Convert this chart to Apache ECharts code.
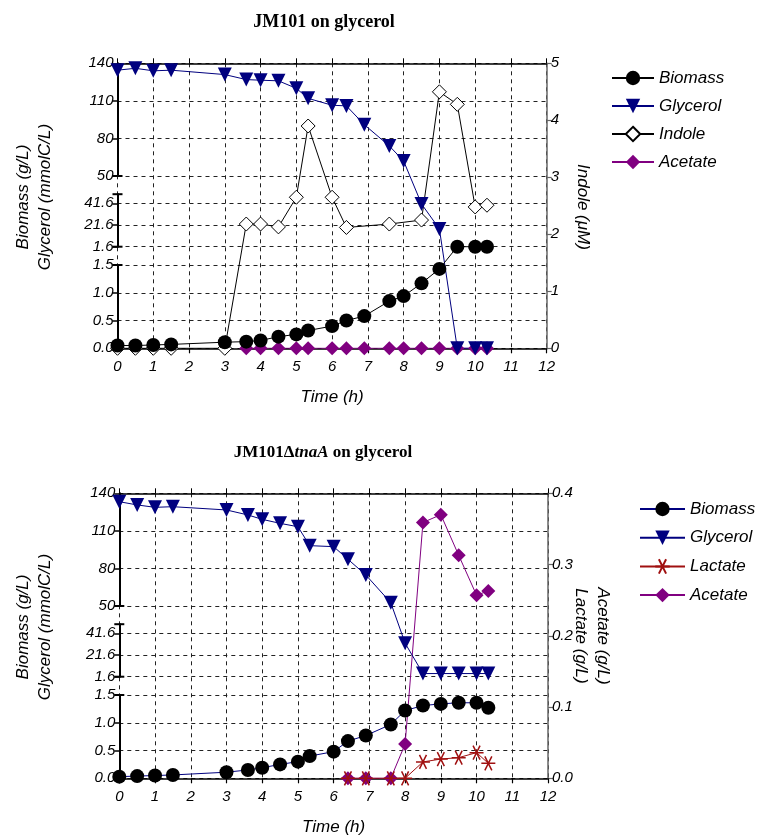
<!DOCTYPE html>
<html><head><meta charset="utf-8">
<script src="https://cdn.jsdelivr.net/npm/echarts@6/dist/echarts.min.js"></script>
<style>html,body{margin:0;padding:0;background:#fff}#c{width:767px;height:838px}</style>
</head><body><div id="c"></div>
<script>
// ================= DATA =================
// Panel 1: JM101 on glycerol
const timeBioGly1 = [0,0.5,1,1.5,3,3.6,4,4.5,5,5.33,6,6.4,6.9,7.6,8,8.5,9,9.5,10,10.33];
const biomass1    = [0.05,0.05,0.06,0.07,0.11,0.12,0.14,0.21,0.25,0.32,0.40,0.50,0.58,0.85,0.94,1.17,1.43,1.6,1.6,1.6];
const glycerol1   = [134.5,136,134,134.5,131,127,126.5,126,120,112,106.5,106,91,74,62,41,18,0,0,0];
const timeIndole1 = [0,0.5,1,1.5,3,3.6,4,4.5,5,5.33,6,6.4,7.6,8.5,9,9.5,10,10.33];
const indole1     = [0,0,0,0,0,2.18,2.18,2.13,2.65,3.9,2.65,2.12,2.18,2.25,4.5,4.28,2.48,2.51];
const timeAcetate1= [3.6,4,4.5,5,5.33,6,6.4,6.9,7.6,8,8.5,9,9.5,10,10.33];
const acetate1    = [0,0,0,0,0,0,0,0,0,0,0,0,0,0,0];

// Panel 2: JM101ΔtnaA on glycerol
const timeBioGly2 = [0,0.5,1,1.5,3,3.6,4,4.5,5,5.33,6,6.4,6.9,7.6,8,8.5,9,9.5,10,10.33];
const biomass2    = [0.03,0.04,0.05,0.06,0.11,0.15,0.19,0.25,0.30,0.40,0.48,0.67,0.77,0.97,1.22,1.31,1.34,1.36,1.36,1.27];
const glycerol2   = [133.3,130.7,128.8,129.3,126.7,122.7,119.2,116,113.3,98.2,97.4,87.3,74.8,52.6,32.5,4.5,4.5,4.5,4.5,4.5];
const timeAcLac2  = [6.4,6.9,7.6,8,8.5,9,9.5,10,10.33];
const lactate2    = [0,0,0,0,0.023,0.027,0.029,0.036,0.021];
const acetate2    = [0,0,0,0.048,0.359,0.370,0.313,0.257,0.263];

// Tick labels
const xTicks        = [0,1,2,3,4,5,6,7,8,9,10,11,12];
const leftTicksLow  = [0, 0.5, 1.0, 1.5];
const leftTicksMid  = [1.6, 21.6, 41.6];
const leftTicksHigh = [50, 80, 110, 140];
const indoleTicks   = [0,1,2,3,4,5];
const acLacTicks    = [0,0.1,0.2,0.3,0.4];

// ================= LAYOUT / BROKEN AXIS =================
const PLOT_H = 285;
const SEG_A = {min:0,   max:1.5, h:83.3};
const GAP1  = 18.3;
const SEG_B = {min:1.6, max:50,  h:52.5};
const GAP2  = 18.2;
const SEG_C = {min:50,  max:140, h:112.7};
// broken-axis scale: real value -> position on the hidden full-height axis
function brk(v){
  if (v <= SEG_A.max) return (v - SEG_A.min) / (SEG_A.max - SEG_A.min) * SEG_A.h;
  if (v < SEG_B.min)  return SEG_A.h + (v - SEG_A.max) / (SEG_B.min - SEG_A.max) * GAP1;
  if (v < SEG_B.max)  return SEG_A.h + GAP1 + (v - SEG_B.min) / (SEG_B.max - SEG_B.min) * SEG_B.h;
  return SEG_A.h + GAP1 + SEG_B.h + GAP2 + (v - SEG_C.min) / (SEG_C.max - SEG_C.min) * SEG_C.h;
}

const FONT = 'Liberation Sans, Arial, Helvetica, sans-serif';
const SERIF = 'Liberation Serif, Times New Roman, serif';
const NAVY = '#00007f', PURPLE = '#800080', RED = '#a01010';
const ZW = '\u200b';

const grids=[], xAxes=[], yAxes=[], series=[];

function lbl(extra){ return Object.assign({fontFamily:FONT, fontStyle:'italic', fontSize:15, color:'#000'}, extra||{}); }
const dashed = {show:true, lineStyle:{color:'#222', width:1, type:[4,4]}};

function addPanel(P){
  const g0 = grids.length;
  const bottom = P.top + PLOT_H;
  grids.push({left:P.left, top:P.top, width:P.width, height:PLOT_H, outerBoundsMode:'none'});
  grids.push({left:P.left, top:bottom - SEG_A.h, width:P.width, height:SEG_A.h, outerBoundsMode:'none'});
  grids.push({left:P.left, top:bottom - SEG_A.h - GAP1 - SEG_B.h, width:P.width, height:SEG_B.h, outerBoundsMode:'none'});
  grids.push({left:P.left, top:P.top, width:P.width, height:SEG_C.h, outerBoundsMode:'none'});

  const x0 = xAxes.length;
  xAxes.push({gridIndex:g0, type:'value', min:xTicks[0], max:xTicks[xTicks.length-1], interval:1,
    name:'Time (h)', nameLocation:'middle', nameGap:40,
    nameTextStyle:{fontFamily:FONT, fontStyle:'italic', fontSize:17, color:'#000'},
    axisLine:{onZero:false, lineStyle:{color:'#000', width:1.5}},
    axisTick:{show:true, length:5, lineStyle:{color:'#000', width:1.2}},
    axisLabel:lbl({margin:11}),
    splitLine:dashed});
  xAxes.push({gridIndex:g0+1, type:'value', min:0, max:12, show:false});
  xAxes.push({gridIndex:g0+2, type:'value', min:0, max:12, show:false});
  xAxes.push({gridIndex:g0+3, type:'value', min:0, max:12, interval:1, position:'top',
    axisLine:{onZero:false, lineStyle:{color:'#000', width:1.5}},
    axisTick:{show:true, length:5, lineStyle:{color:'#000', width:1}},
    axisLabel:{show:false}, splitLine:{show:false}});

  const y0 = yAxes.length;
  // hidden full-height broken scale
  yAxes.push({gridIndex:g0, type:'value', min:0, max:PLOT_H, show:false});
  // right axis
  yAxes.push({gridIndex:g0, type:'value', position:'right', min:P.rTicks[0], max:P.rTicks[P.rTicks.length-1],
    interval:P.rTicks[1]-P.rTicks[0],
    axisLine:{show:true, onZero:false, lineStyle:{color:'#666', width:1.5}},
    axisTick:{show:true, length:5, lineStyle:{color:'#666', width:1.2}},
    axisLabel:lbl({margin:4, formatter:P.rFmt}),
    splitLine:{show:false}});
  const segAxis = (gi, seg, ticks, fmt, sym) => ({gridIndex:gi, type:'value', min:seg.min, max:seg.max,
    axisLine:{show:true, onZero:false, lineStyle:{color:'#000', width:2}, symbol:sym, symbolSize:[10,2]},
    axisTick:{show:true, length:5, customValues:ticks, lineStyle:{color:'#000', width:1.5}},
    axisLabel:lbl({margin:4, customValues:ticks, formatter:fmt}),
    splitLine:dashed});
  yAxes.push(segAxis(g0+1, SEG_A, leftTicksLow, v=>v.toFixed(1), ['none','rect']));
  yAxes.push(segAxis(g0+2, SEG_B, leftTicksMid, v=>v.toFixed(1), ['rect','rect']));
  yAxes.push(segAxis(g0+3, SEG_C, leftTicksHigh, v=>String(Math.round(v)), ['rect','none']));

  P.series.forEach(s => {
    const useRight = s.right;
    series.push({
      type:'line', name:s.name, xAxisIndex:x0, yAxisIndex: useRight ? y0+1 : y0,
      data: s.t.map((t,i)=>[t, useRight ? s.v[i] : brk(s.v[i])]),
      symbol:s.symbol, symbolSize:s.size, symbolRotate:s.rotate||0,
      showAllSymbol:true, animation:false, z:s.z||2,
      lineStyle:{color:s.line, width:1},
      itemStyle:Object.assign({color:s.fill}, s.item||{}),
      emphasis:{disabled:true}
    });
  });
}

const asterisk = 'path://M-10,0L10,0M-5,-8.66L5,8.66M-5,8.66L5,-8.66';

addPanel({top:63.3, left:117.5, width:429.2, rTicks:indoleTicks, rFmt:v=>String(Math.round(v)),
  series:[
    {name:'Indole', t:timeIndole1, v:indole1, right:true, symbol:'diamond', size:14, line:'#000', fill:'#fff', item:{borderColor:'#000', borderWidth:1}},
    {name:'Acetate', t:timeAcetate1, v:acetate1, symbol:'diamond', size:14, line:PURPLE, fill:PURPLE},
    {name:'Glycerol', t:timeBioGly1, v:glycerol1, symbol:'triangle', rotate:180, size:14, line:NAVY, fill:NAVY},
    {name:'Biomass', t:timeBioGly1, v:biomass1, symbol:'circle', size:14, line:'#000', fill:'#000'}
  ]});

addPanel({top:493.3, left:119.3, width:428.7, rTicks:acLacTicks, rFmt:v=>v.toFixed(1),
  series:[
    {name:'Acetate'+ZW, t:timeAcLac2, v:acetate2, right:true, symbol:'diamond', size:14, line:PURPLE, fill:PURPLE},
    {name:'Lactate', t:timeAcLac2, v:lactate2, right:true, symbol:asterisk, size:14, line:RED, fill:'rgba(0,0,0,0)', item:{borderColor:RED, borderWidth:1.5}},
    {name:'Glycerol'+ZW, t:timeBioGly2, v:glycerol2, symbol:'triangle', rotate:180, size:14, line:NAVY, fill:NAVY},
    {name:'Biomass'+ZW, t:timeBioGly2, v:biomass2, symbol:'circle', size:14, line:NAVY, fill:'#000'}
  ]});

const legendText = {fontFamily:FONT, fontStyle:'italic', fontSize:17, color:'#000', lineHeight:20};
const option = {
  animation:false,
  backgroundColor:'#fff',
  grid:grids, xAxis:xAxes, yAxis:yAxes, series:series,
  legend:[
    {orient:'vertical', left:606, top:63, itemWidth:42, itemHeight:18, itemGap:8,
     data:['Biomass','Glycerol','Indole','Acetate'], textStyle:legendText, selectedMode:false},
    {orient:'vertical', left:634, top:494, itemWidth:45, itemHeight:18, itemGap:8.7,
     data:['Biomass'+ZW,'Glycerol'+ZW,'Lactate','Acetate'+ZW], textStyle:legendText, selectedMode:false,
     formatter:n=>n.replace(ZW,'')}
  ],
  graphic:[
    {type:'text', x:324, y:22, style:{text:'JM101 on glycerol', fontFamily:SERIF, fontWeight:'bold', fontSize:18, fill:'#000', align:'center', verticalAlign:'middle'}},
    {type:'text', x:323, y:453, style:{text:'{a|JM101Δ}{b|tnaA}{a| on glycerol}', align:'center', verticalAlign:'middle',
      rich:{a:{fontFamily:SERIF, fontWeight:'bold', fontSize:17, fill:'#000'}, b:{fontFamily:SERIF, fontWeight:'bold', fontStyle:'italic', fontSize:17, fill:'#000'}}}},
    {type:'text', x:34, y:197, rotation:Math.PI/2, style:{text:'Biomass (g/L)\nGlycerol (mmolC/L)', fontFamily:FONT, fontStyle:'italic', fontSize:17, lineHeight:22, fill:'#000', align:'center', verticalAlign:'middle'}},
    {type:'text', x:34, y:627, rotation:Math.PI/2, style:{text:'Biomass (g/L)\nGlycerol (mmolC/L)', fontFamily:FONT, fontStyle:'italic', fontSize:17, lineHeight:22, fill:'#000', align:'center', verticalAlign:'middle'}},
    {type:'text', x:583, y:207, rotation:-Math.PI/2, style:{text:'Indole (μM)', fontFamily:FONT, fontStyle:'italic', fontSize:17, fill:'#000', align:'center', verticalAlign:'middle'}},
    {type:'text', x:592, y:636, rotation:-Math.PI/2, style:{text:'Acetate (g/L)\nLactate (g/L)', fontFamily:FONT, fontStyle:'italic', fontSize:17, lineHeight:22, fill:'#000', align:'center', verticalAlign:'middle'}}
  ]
};
const chart = echarts.init(document.getElementById('c'));
chart.setOption(option);
</script>
</body></html>
